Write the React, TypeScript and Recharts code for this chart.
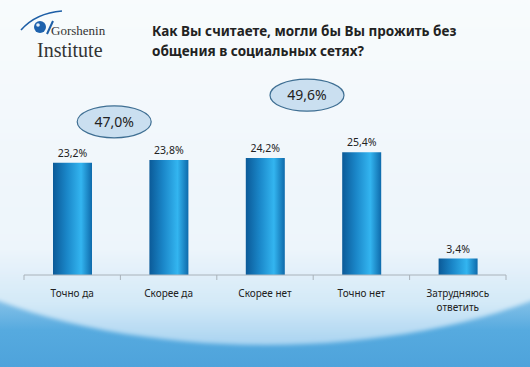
import { BarChart, Bar, XAxis, YAxis, LabelList, ReferenceDot } from 'recharts';

const categories = ['Точно да', 'Скорее да', 'Скорее нет', 'Точно нет', 'Затрудняюсь ответить'];
const values = [23.2, 23.8, 24.2, 25.4, 3.4];

// итоговые овалы: над какой категорией и какое значение
const totalsAt = ['Точно да', 'Скорее нет'];
const totalsLevel = [31.7, 37.2];
const totalsText = ['47,0%', '49,6%'];

const data = categories.map((name, i) => ({ name, value: values[i] }));

const FONT = '"Noto Sans", "Open Sans", sans-serif';
const BAND = 482 / categories.length;

const fmt = (v: number) => `${v.toFixed(1).replace('.', ',')}%`;

const CategoryTick = (props: any) => {
	const { x, y, payload, index } = props;
	const words: string[] = payload.value.length > 12 ? payload.value.split(' ') : [payload.value];
	return (
		<g>
			<line x1={x - BAND / 2} y1={y - 8} x2={x - BAND / 2} y2={y - 3} stroke="#a9b2ba" />
			{index === categories.length - 1 && (
				<line x1={x + BAND / 2} y1={y - 8} x2={x + BAND / 2} y2={y - 3} stroke="#a9b2ba" />
			)}
			<text x={x} y={y + 14} textAnchor="middle" fontSize={10} fill="#222" fontFamily={FONT}>
				{words.map((w, i) => (
					<tspan key={i} x={x} dy={i === 0 ? 0 : 14}>
						{w}
					</tspan>
				))}
			</text>
		</g>
	);
};

const Oval = (text: string) => (props: any) => {
	const cx = props.cx + 42;
	const cy = props.cy;
	return (
		<g>
			<ellipse cx={cx} cy={cy} rx={37} ry={16} fill="#cadff0" stroke="#3f6f93" strokeWidth={1.2} />
			<text x={cx} y={cy + 5} textAnchor="middle" fontSize={14} fill="#222" fontFamily={FONT}>
				{text}
			</text>
		</g>
	);
};

function Logo() {
	return (
		<svg width={140} height={70} style={{ position: 'absolute', left: 0, top: 0 }}>
			<path d="M21 30 Q 36 13 62 11" fill="none" stroke="#1d5ea6" strokeWidth={1.6} />
			<circle cx={40} cy={27} r={6} fill="#1d62ad" />
			<circle cx={38} cy={25} r={1.8} fill="#e8f1fa" />
			<line x1={53} y1={21} x2={47} y2={34} stroke="#1d5ea6" strokeWidth={2} />
			<text x={51} y={35} fontFamily='"Liberation Serif", serif' fontSize={13} fill="#333">
				Gorshenin
			</text>
			<text x={37} y={57} fontFamily='"Liberation Serif", serif' fontSize={20} fill="#333">
				Institute
			</text>
		</svg>
	);
}

function Background() {
	return (
		<svg width={530} height={367} style={{ position: 'absolute', left: 0, top: 0 }}>
			<defs>
				<linearGradient id="bg" gradientUnits="userSpaceOnUse" x1="0" y1="0" x2="0" y2="367">
					<stop offset="0" stopColor="#f8fbfd" />
					<stop offset="0.68" stopColor="#e9f3fa" />
					<stop offset="0.8" stopColor="#8fc6ea" />
					<stop offset="0.9" stopColor="#56aadf" />
					<stop offset="1" stopColor="#4ea3db" />
				</linearGradient>
				<linearGradient id="glow" gradientUnits="userSpaceOnUse" x1="0" y1="0" x2="0" y2="345">
					<stop offset="0" stopColor="#f8fbfd" />
					<stop offset="0.72" stopColor="#edf5fb" />
					<stop offset="0.88" stopColor="#d3e9f7" />
					<stop offset="1" stopColor="#a9d4f1" />
				</linearGradient>
				<filter id="soft">
					<feGaussianBlur stdDeviation="2" />
				</filter>
			</defs>
			<rect width={530} height={367} fill="url(#bg)" />
			<ellipse cx={265} cy={150} rx={420} ry={195} fill="url(#glow)" filter="url(#soft)" />
		</svg>
	);
}

export default function App() {
	return (
		<div
			style={{
				position: 'absolute',
				left: 0,
				top: 0,
				width: 530,
				height: 367,
				overflow: 'hidden',
				fontFamily: FONT,
			}}
		>
			<Background />
			<Logo />
			<div
				style={{
					position: 'absolute',
					left: 152,
					top: 21,
					fontSize: 13.5,
					fontWeight: 700,
					lineHeight: '20px',
					color: '#222',
				}}
			>
				Как Вы считаете, могли бы Вы прожить без
				<br />
				общения в социальных сетях?
			</div>
			<div style={{ position: 'absolute', left: 0, top: 0 }}>
				<BarChart width={530} height={367} data={data} margin={{ top: 130, right: 24, bottom: 62, left: 24 }}>
					<defs>
						<linearGradient id="barFill" x1="0" y1="0" x2="1" y2="0">
							<stop offset="0" stopColor="#0b5a98" />
							<stop offset="0.35" stopColor="#1a86c8" />
							<stop offset="0.72" stopColor="#33b5f0" />
							<stop offset="1" stopColor="#0e6aab" />
						</linearGradient>
					</defs>
					<YAxis hide domain={[0, 30]} />
					<XAxis
						dataKey="name"
						axisLine={{ stroke: '#a9b2ba' }}
						tickLine={false}
						interval={0}
						tick={<CategoryTick />}
					/>
					<Bar dataKey="value" fill="url(#barFill)" barSize={39} isAnimationActive={false}>
						<LabelList
							dataKey="value"
							position="top"
							offset={6}
							formatter={(v: any) => fmt(Number(v))}
							style={{ fontSize: 10.5, fill: '#222', fontFamily: FONT }}
						/>
					</Bar>
					{totalsAt.map((cat, i) => (
						<ReferenceDot
							key={cat}
							x={cat}
							y={totalsLevel[i]}
							ifOverflow="visible"
							shape={Oval(totalsText[i])}
						/>
					))}
				</BarChart>
			</div>
		</div>
	);
}
